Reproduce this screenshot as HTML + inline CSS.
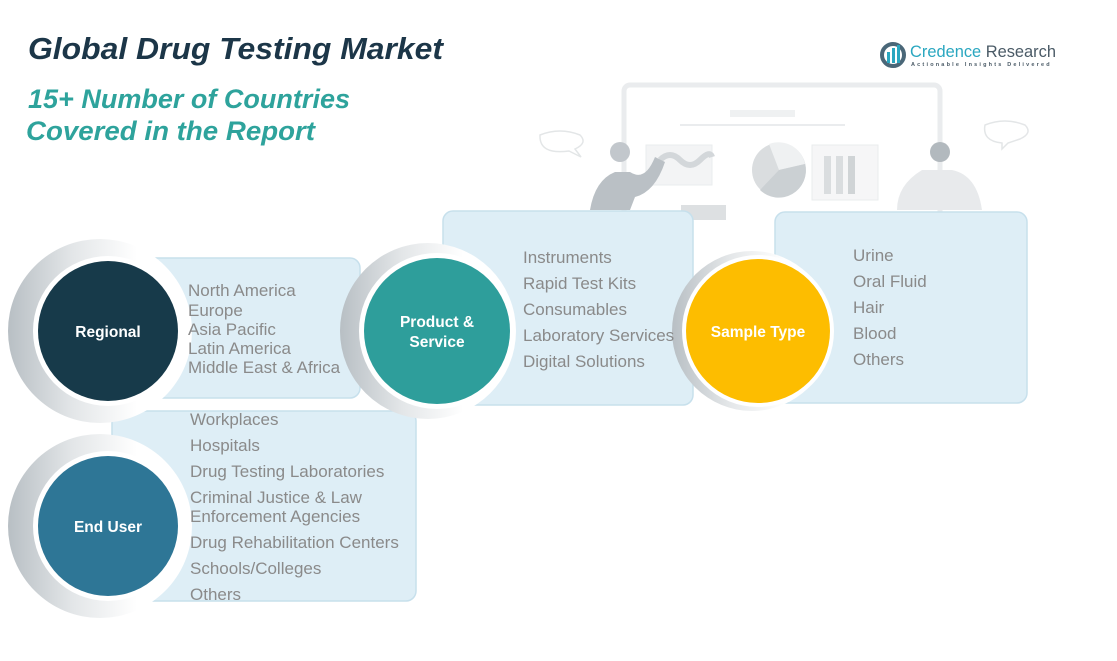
<!DOCTYPE html>
<html><head><meta charset="utf-8"><style>
body{margin:0;background:#fff;}
svg text{font-family:"Liberation Sans",sans-serif;}
</style></head><body>
<svg width="1117" height="656" viewBox="0 0 1117 656" xmlns="http://www.w3.org/2000/svg">
<defs>
<linearGradient id="ring" x1="0" y1="0" x2="1" y2="0">
<stop offset="0" stop-color="#b8bfc4"/><stop offset="0.35" stop-color="#e3e6e8"/><stop offset="0.7" stop-color="#ffffff"/>
</linearGradient>
</defs>
<g opacity="0.8">
<rect x="624" y="85" width="316" height="200" rx="6" fill="none" stroke="#e6e8ea" stroke-width="5"/>
<rect x="730" y="110" width="65" height="7" fill="#eceeef"/>
<line x1="680" y1="125" x2="845" y2="125" stroke="#e6e8ea" stroke-width="2"/>
<rect x="646" y="145" width="66" height="40" fill="#f1f2f3" stroke="#e6e8ea"/>
<path d="M660 160 q10 -10 20 0 t20 0 t12 -3" stroke="#c9ced2" stroke-width="6" fill="none"/>
<circle cx="779" cy="170" r="27" fill="#d1d5d8"/>
<path d="M779 170 L769 144 A27 27 0 0 1 805 164 Z" fill="#eceeef"/>
<path d="M779 170 L805 164 A27 27 0 0 1 760 190 Z" fill="#bfc5c9"/>
<rect x="812" y="145" width="66" height="55" fill="#f4f5f6" stroke="#e6e8ea"/>
<rect x="824" y="156" width="7" height="38" fill="#d1d5d8"/><rect x="836" y="156" width="7" height="38" fill="#d1d5d8"/><rect x="848" y="156" width="7" height="38" fill="#c5cacd"/>
<rect x="681" y="205" width="45" height="15" fill="#d5d9dc"/>
<path d="M540 135 q20 -8 40 0 q8 8 -5 14 l6 8 -12 -6 q-30 4 -29 -16z" fill="none" stroke="#dde0e2" stroke-width="1.5"/>
<path d="M985 125 q20 -8 40 0 q8 8 -5 14 l-12 4 -6 6 0 -6 q-20 -2 -17 -18z" fill="none" stroke="#dde0e2" stroke-width="1.5"/>
<path d="M590 210 q5 -30 25 -38 l15 0 q15 10 25 -15 l10 5 q-10 30 -30 35 l-5 13z" fill="#a9b1b7"/>
<circle cx="620" cy="152" r="10" fill="#b3bac0"/>
<path d="M897 210 q0 -25 25 -40 l30 0 q25 5 30 40z" fill="#e3e6e8"/>
<circle cx="940" cy="152" r="10" fill="#a0a8ae"/>
</g>
<rect x="120" y="258" width="240" height="140" rx="10" fill="#deeef6" stroke="#c7e0ec" stroke-width="1.5"/>
<rect x="112" y="411" width="304" height="190" rx="10" fill="#deeef6" stroke="#c7e0ec" stroke-width="1.5"/>
<circle cx="100" cy="331" r="92" fill="url(#ring)"/>
<circle cx="108" cy="331" r="75" fill="#fff"/>
<circle cx="108" cy="331" r="70" fill="#173a4a"/>
<text x="108" y="337" text-anchor="middle" fill="#fff" font-size="15.5" font-weight="bold">Regional</text>
<circle cx="100" cy="526" r="92" fill="url(#ring)"/>
<circle cx="108" cy="526" r="75" fill="#fff"/>
<circle cx="108" cy="526" r="70" fill="#2e7696"/>
<text x="108" y="532" text-anchor="middle" fill="#fff" font-size="15.5" font-weight="bold">End User</text>
<rect x="443" y="211" width="250" height="194" rx="10" fill="#deeef6" stroke="#c7e0ec" stroke-width="1.5"/>
<circle cx="428" cy="331" r="88" fill="url(#ring)"/>
<circle cx="437" cy="331" r="78" fill="#fff"/>
<circle cx="437" cy="331" r="73" fill="#2e9e9b"/>
<text x="437" y="327" text-anchor="middle" fill="#fff" font-size="15.5" font-weight="bold">Product &amp;</text>
<text x="437" y="347" text-anchor="middle" fill="#fff" font-size="15.5" font-weight="bold">Service</text>
<rect x="775" y="212" width="252" height="191" rx="10" fill="#deeef6" stroke="#c7e0ec" stroke-width="1.5"/>
<circle cx="752" cy="331" r="80" fill="url(#ring)"/>
<circle cx="758" cy="331" r="76" fill="#fff"/>
<circle cx="758" cy="331" r="72" fill="#fdbd00"/>
<text x="758" y="337" text-anchor="middle" fill="#fff" font-size="15.5" font-weight="bold">Sample Type</text>
<g fill="#8a8a8a" font-size="17">
<text x="188" y="296">North America</text>
<text x="188" y="316">Europe</text>
<text x="188" y="335">Asia Pacific</text>
<text x="188" y="354">Latin America</text>
<text x="188" y="373">Middle East &amp; Africa</text>
<text x="523" y="263">Instruments</text>
<text x="523" y="289">Rapid Test Kits</text>
<text x="523" y="315">Consumables</text>
<text x="523" y="341">Laboratory Services</text>
<text x="523" y="367">Digital Solutions</text>
<text x="853" y="261">Urine</text>
<text x="853" y="287">Oral Fluid</text>
<text x="853" y="313">Hair</text>
<text x="853" y="339">Blood</text>
<text x="853" y="365">Others</text>
<text x="190" y="425">Workplaces</text>
<text x="190" y="451">Hospitals</text>
<text x="190" y="477">Drug Testing Laboratories</text>
<text x="190" y="503">Criminal  Justice &amp; Law</text>
<text x="190" y="522">Enforcement Agencies</text>
<text x="190" y="548">Drug Rehabilitation Centers</text>
<text x="190" y="574">Schools/Colleges</text>
<text x="190" y="600">Others</text>
</g>
<text x="28" y="59" fill="#1c3648" font-size="31" font-weight="bold" font-style="italic" textLength="415" lengthAdjust="spacingAndGlyphs">Global Drug Testing Market</text>
<text x="28" y="108" fill="#2ea39c" font-size="27" font-weight="bold" font-style="italic" textLength="322" lengthAdjust="spacingAndGlyphs">15+ Number of Countries</text>
<text x="26" y="140" fill="#2ea39c" font-size="27" font-weight="bold" font-style="italic" textLength="289" lengthAdjust="spacingAndGlyphs">Covered in the Report</text>
<circle cx="893" cy="55" r="11" fill="none" stroke="#4a6778" stroke-width="4"/>
<rect x="887" y="52" width="3" height="11" fill="#2aa7c0"/><rect x="892" y="48" width="3" height="15" fill="#2aa7c0"/><rect x="897" y="45" width="3" height="18" fill="#2aa7c0"/>
<text x="910" y="57" fill="#2aa7c0" font-size="17" textLength="146" lengthAdjust="spacingAndGlyphs">Credence <tspan fill="#4a5a66">Research</tspan></text>
<text x="911" y="66" fill="#4a5a66" font-size="5.5" font-weight="bold" letter-spacing="2.2">Actionable Insights Delivered</text>
</svg>
</body></html>
